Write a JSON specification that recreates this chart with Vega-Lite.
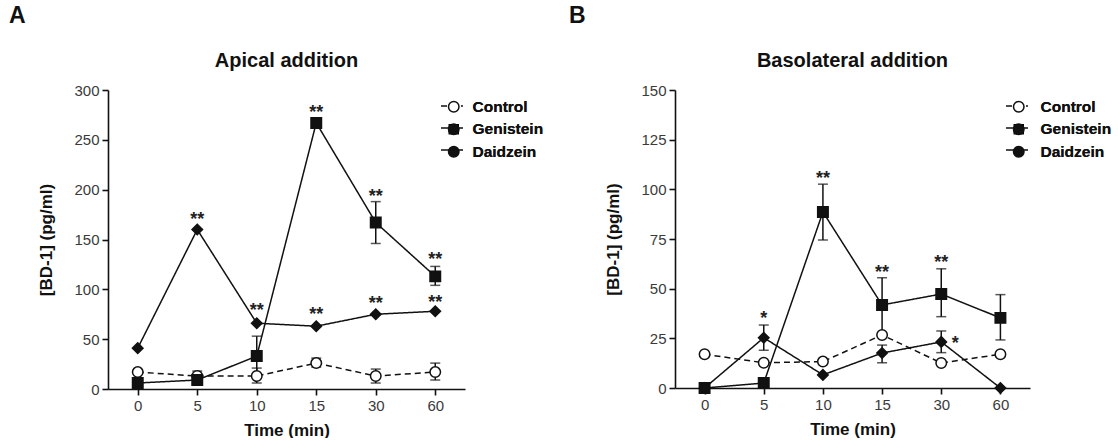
{
  "$schema": "https://vega.github.io/schema/vega-lite/v6.json",
  "background": "white",
  "padding": {"left": 8, "top": 5, "right": 0, "bottom": 0},
  "datasets": {
    "a": [
      {"time": 0, "series": "Control", "mean": 17},
      {"time": 5, "series": "Control", "mean": 13, "lo": 8, "hi": 18},
      {"time": 10, "series": "Control", "mean": 13, "lo": 6, "hi": 21},
      {"time": 15, "series": "Control", "mean": 26, "lo": 22, "hi": 31},
      {"time": 30, "series": "Control", "mean": 13, "lo": 6, "hi": 20},
      {"time": 60, "series": "Control", "mean": 17, "lo": 9, "hi": 26},
      {"time": 0, "series": "Genistein", "mean": 6},
      {"time": 5, "series": "Genistein", "mean": 9},
      {"time": 10, "series": "Genistein", "mean": 33, "lo": 14, "hi": 53},
      {"time": 15, "series": "Genistein", "mean": 267},
      {"time": 30, "series": "Genistein", "mean": 167, "lo": 146, "hi": 188},
      {"time": 60, "series": "Genistein", "mean": 113, "lo": 104, "hi": 123},
      {"time": 0, "series": "Daidzein", "mean": 41},
      {"time": 5, "series": "Daidzein", "mean": 160},
      {"time": 10, "series": "Daidzein", "mean": 66},
      {"time": 15, "series": "Daidzein", "mean": 63},
      {"time": 30, "series": "Daidzein", "mean": 75},
      {"time": 60, "series": "Daidzein", "mean": 78}
    ],
    "sa": [
      {"time": 5, "y": 174, "label": "**"},
      {"time": 10, "y": 82, "label": "**"},
      {"time": 15, "y": 78, "label": "**"},
      {"time": 30, "y": 89, "label": "**"},
      {"time": 60, "y": 90, "label": "**"},
      {"time": 15, "y": 281, "label": "**"},
      {"time": 30, "y": 197, "label": "**"},
      {"time": 60, "y": 133, "label": "**"}
    ],
    "b": [
      {"time": 0, "series": "Control", "mean": 17},
      {"time": 5, "series": "Control", "mean": 12.7},
      {"time": 10, "series": "Control", "mean": 13.3},
      {"time": 15, "series": "Control", "mean": 26.7},
      {"time": 30, "series": "Control", "mean": 12.6},
      {"time": 60, "series": "Control", "mean": 17},
      {"time": 0, "series": "Genistein", "mean": 0},
      {"time": 5, "series": "Genistein", "mean": 2.5},
      {"time": 10, "series": "Genistein", "mean": 88.6, "lo": 74.5, "hi": 102.6},
      {"time": 15, "series": "Genistein", "mean": 41.8, "lo": 27, "hi": 55.5},
      {"time": 30, "series": "Genistein", "mean": 47.3, "lo": 35.9, "hi": 60},
      {"time": 60, "series": "Genistein", "mean": 35.3, "lo": 24.2, "hi": 47},
      {"time": 0, "series": "Daidzein", "mean": 0},
      {"time": 5, "series": "Daidzein", "mean": 25.3, "lo": 19, "hi": 31.7},
      {"time": 10, "series": "Daidzein", "mean": 6.6},
      {"time": 15, "series": "Daidzein", "mean": 17.6, "lo": 12.7, "hi": 21.6},
      {"time": 30, "series": "Daidzein", "mean": 23.2, "lo": 17.8, "hi": 28.7},
      {"time": 60, "series": "Daidzein", "mean": 0}
    ],
    "sb": [
      {"time": 10, "y": 107, "label": "**", "side": "top"},
      {"time": 15, "y": 60, "label": "**", "side": "top"},
      {"time": 30, "y": 65, "label": "**", "side": "top"},
      {"time": 5, "y": 36.7, "label": "*", "side": "top"},
      {"time": 30, "y": 24, "label": "*", "side": "right"}
    ]
  },
  "config": {
    "view": {"stroke": null},
    "font": "Liberation Sans",
    "axis": {
      "grid": false,
      "domainColor": "#111",
      "domainWidth": 1.6,
      "tickColor": "#111",
      "tickWidth": 1.6,
      "tickSize": 6,
      "labelFont": "Liberation Sans",
      "labelFontSize": 15,
      "labelColor": "#3a3a3a",
      "labelPadding": 3,
      "titleFont": "Liberation Sans",
      "titleFontSize": 17,
      "titleFontWeight": "bold",
      "titleColor": "#111"
    },
    "legend": {
      "padding": 0,
      "labelFont": "Liberation Sans",
      "labelFontSize": 15.5,
      "labelFontWeight": "bold",
      "labelColor": "#111",
      "symbolStrokeWidth": 1.5,
      "symbolStrokeColor": "#111",
      "symbolOpacity": 1
    }
  },
  "spacing": 24,
  "hconcat": [
    {
      "title": {"text": "A", "anchor": "start", "frame": "bounds", "fontSize": 23, "fontWeight": "bold", "color": "#111", "dx": -29, "offset": 23},
      "vconcat": [
        {
          "width": 357,
          "height": 299,
          "title": {"text": "Apical addition", "fontSize": 20, "fontWeight": "bold", "color": "#111", "offset": 12},
          "data": {"name": "a"},
          "encoding": {
            "x": {"field": "time", "type": "ordinal", "sort": [0, 5, 10, 15, 30, 60], "scale": {"type": "point", "padding": 0.5}, "axis": {"labelAngle": 0, "title": "Time (min)", "titlePadding": 9}}
          },
          "layer": [
            {
              "mark": {"type": "line", "color": "#111", "strokeWidth": 1.5},
              "encoding": {
                "y": {"field": "mean", "type": "quantitative", "scale": {"domain": [0, 300], "nice": false}, "axis": {"values": [0, 50, 100, 150, 200, 250, 300], "title": "[BD-1] (pg/ml)", "titlePadding": 18}},
                "strokeDash": {"field": "series", "type": "nominal", "scale": {"domain": ["Control", "Genistein", "Daidzein"], "range": [[6, 4], [1, 0], [1, 0]]},
                  "legend": {"orient": "none", "legendX": 332, "legendY": 4, "title": null, "symbolType": "stroke", "symbolSize": 484, "labelExpr": "''", "labelOffset": 0, "rowPadding": 1, "zindex": 0}}
              }
            },
            {
              "transform": [{"filter": "isValid(datum.lo)"}],
              "mark": {"type": "rule", "color": "#111", "strokeWidth": 1.5},
              "encoding": {"y": {"field": "lo", "type": "quantitative"}, "y2": {"field": "hi"}}
            },
            {
              "transform": [{"filter": "isValid(datum.lo)"}],
              "mark": {"type": "tick", "color": "#111", "size": 10, "thickness": 1.5},
              "encoding": {"y": {"field": "lo", "type": "quantitative"}}
            },
            {
              "transform": [{"filter": "isValid(datum.lo)"}],
              "mark": {"type": "tick", "color": "#111", "size": 10, "thickness": 1.5},
              "encoding": {"y": {"field": "hi", "type": "quantitative"}}
            },
            {
              "mark": {"type": "point", "filled": true, "stroke": "#111", "strokeWidth": 1.5, "opacity": 1, "size": 110},
              "encoding": {
                "y": {"field": "mean", "type": "quantitative"},
                "shape": {"field": "series", "type": "nominal", "sort": ["Control", "Genistein", "Daidzein"], "scale": {"range": ["circle", "square", "diamond"]},
                  "legend": {"orient": "none", "legendX": 338, "legendY": 9, "title": null, "symbolSize": 110, "labelOffset": 11, "rowPadding": 4.5, "zindex": 1}},
                "fill": {"field": "series", "type": "nominal", "sort": ["Control", "Genistein", "Daidzein"], "scale": {"range": ["white", "#111", "#111"]},
                  "legend": {"orient": "none", "legendX": 338, "legendY": 9, "title": null, "symbolSize": 110, "labelOffset": 11, "rowPadding": 4.5, "zindex": 1}}
              }
            },
            {
              "data": {"name": "sa"},
              "mark": {"type": "text", "fontSize": 18, "fontWeight": "bold", "color": "#222", "baseline": "middle", "dy": 4},
              "encoding": {"y": {"field": "y", "type": "quantitative"}, "text": {"field": "label"}}
            }
          ]
        }
      ]
    },
    {
      "title": {"text": "B", "anchor": "start", "frame": "bounds", "fontSize": 23, "fontWeight": "bold", "color": "#111", "dx": -36, "offset": 23},
      "vconcat": [
        {
          "width": 355,
          "height": 298,
          "title": {"text": "Basolateral addition", "fontSize": 20, "fontWeight": "bold", "color": "#111", "offset": 12},
          "data": {"name": "b"},
          "encoding": {
            "x": {"field": "time", "type": "ordinal", "sort": [0, 5, 10, 15, 30, 60], "scale": {"type": "point", "padding": 0.5}, "axis": {"labelAngle": 0, "title": "Time (min)", "titlePadding": 9}}
          },
          "layer": [
            {
              "mark": {"type": "line", "color": "#111", "strokeWidth": 1.5},
              "encoding": {
                "y": {"field": "mean", "type": "quantitative", "scale": {"domain": [0, 150], "nice": false}, "axis": {"values": [0, 25, 50, 75, 100, 125, 150], "title": "[BD-1] (pg/ml)", "titlePadding": 18}},
                "strokeDash": {"field": "series", "type": "nominal", "scale": {"domain": ["Control", "Genistein", "Daidzein"], "range": [[6, 4], [1, 0], [1, 0]]},
                  "legend": {"orient": "none", "legendX": 330, "legendY": 4, "title": null, "symbolType": "stroke", "symbolSize": 484, "labelExpr": "''", "labelOffset": 0, "rowPadding": 1, "zindex": 0}}
              }
            },
            {
              "transform": [{"filter": "isValid(datum.lo)"}],
              "mark": {"type": "rule", "color": "#111", "strokeWidth": 1.5},
              "encoding": {"y": {"field": "lo", "type": "quantitative"}, "y2": {"field": "hi"}}
            },
            {
              "transform": [{"filter": "isValid(datum.lo)"}],
              "mark": {"type": "tick", "color": "#111", "size": 10, "thickness": 1.5},
              "encoding": {"y": {"field": "lo", "type": "quantitative"}}
            },
            {
              "transform": [{"filter": "isValid(datum.lo)"}],
              "mark": {"type": "tick", "color": "#111", "size": 10, "thickness": 1.5},
              "encoding": {"y": {"field": "hi", "type": "quantitative"}}
            },
            {
              "mark": {"type": "point", "filled": true, "stroke": "#111", "strokeWidth": 1.5, "opacity": 1, "size": 110},
              "encoding": {
                "y": {"field": "mean", "type": "quantitative"},
                "shape": {"field": "series", "type": "nominal", "sort": ["Control", "Genistein", "Daidzein"], "scale": {"range": ["circle", "square", "diamond"]},
                  "legend": {"orient": "none", "legendX": 336, "legendY": 9, "title": null, "symbolSize": 110, "labelOffset": 14, "rowPadding": 4.5, "zindex": 1}},
                "fill": {"field": "series", "type": "nominal", "sort": ["Control", "Genistein", "Daidzein"], "scale": {"range": ["white", "#111", "#111"]},
                  "legend": {"orient": "none", "legendX": 336, "legendY": 9, "title": null, "symbolSize": 110, "labelOffset": 14, "rowPadding": 4.5, "zindex": 1}}
              }
            },
            {
              "data": {"name": "sb"},
              "transform": [{"filter": "datum.side === 'top'"}],
              "mark": {"type": "text", "fontSize": 18, "fontWeight": "bold", "color": "#222", "baseline": "middle", "dy": 4},
              "encoding": {"y": {"field": "y", "type": "quantitative"}, "text": {"field": "label"}}
            },
            {
              "data": {"name": "sb"},
              "transform": [{"filter": "datum.side === 'right'"}],
              "mark": {"type": "text", "fontSize": 18, "fontWeight": "bold", "color": "#222", "baseline": "middle", "dy": 4, "dx": 14},
              "encoding": {"y": {"field": "y", "type": "quantitative"}, "text": {"field": "label"}}
            }
          ]
        }
      ]
    }
  ],
  "resolve": {"legend": {"shape": "independent", "fill": "independent", "strokeDash": "independent"}}
}
